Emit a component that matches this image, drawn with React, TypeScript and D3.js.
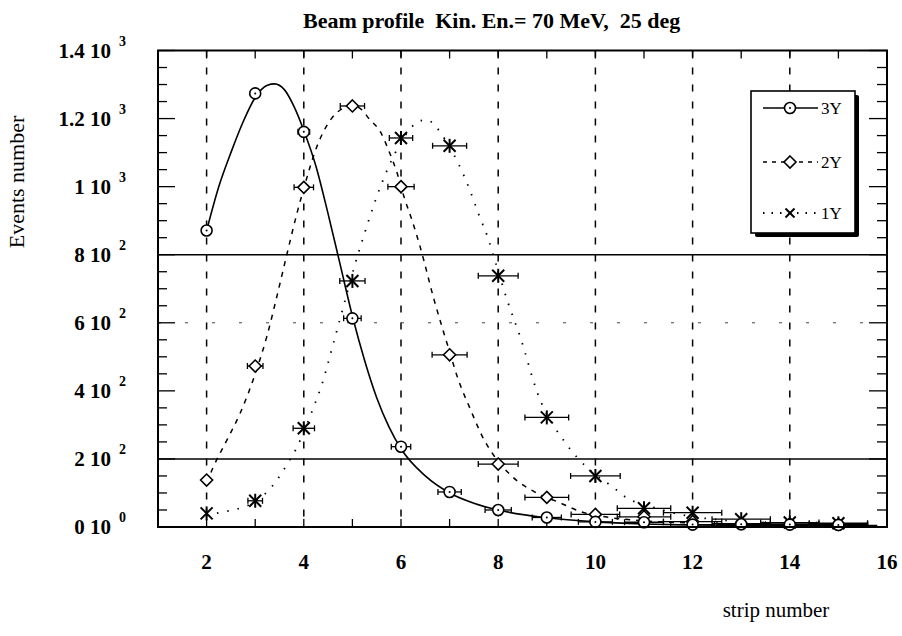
import React from 'react';
import * as d3 from 'd3';

// ---- data ----
const strips = [2, 3, 4, 5, 6, 7, 8, 9, 10, 11, 12, 13, 14, 15];
const events3Y = [871, 1274, 1161, 613, 236, 103, 50, 28, 15, 14, 7, 8, 7, 6];
const events2Y = [138, 473, 998, 1237, 1000, 506, 185, 87, 37, 30, 16, 10, 9, 8];
const events1Y = [40, 77, 290, 723, 1143, 1120, 738, 322, 150, 55, 42, 23, 13, 11];
const xErr3Y = [0, 0.08, 0.12, 0.18, 0.2, 0.24, 0.27, 0.3, 0.35, 0.4, 0.45, 0.5, 0.55, 0.6];
const xErr2Y = [0, 0.16, 0.2, 0.25, 0.27, 0.36, 0.41, 0.45, 0.5, 0.55, 0.6, 0.6, 0.6, 0.6];
const xErr1Y = [0, 0.15, 0.22, 0.26, 0.24, 0.35, 0.41, 0.45, 0.51, 0.55, 0.6, 0.6, 0.6, 0.6];

// fitted curves
const fit3Y_s = [2, 2.25, 2.5, 2.75, 3, 3.25, 3.4, 3.6, 3.8, 4, 4.25, 4.5, 4.75, 5, 5.25, 5.5, 5.75, 6, 6.5, 7, 7.5, 8, 9, 10, 11, 12, 13, 14, 15.8];
const fit3Y_v = [871, 1000, 1100, 1190, 1262, 1298, 1302, 1285, 1235, 1165, 1060, 920, 770, 620, 490, 380, 295, 230, 150, 100, 70, 50, 27, 15, 9, 6, 5, 4, 4];
const fit2Y_s = [2, 2.14, 2.42, 2.69, 3, 3.24, 3.45, 3.65, 3.86, 4, 4.27, 4.58, 4.8, 5, 5.2, 5.34, 5.58, 5.75, 5.92, 6.06, 6.23, 6.4, 6.68, 6.85, 7, 7.15, 7.43, 7.71, 7.91, 8.29, 8.74, 9.29, 9.7, 10.2, 11, 12];
const fit2Y_v = [130, 177, 256, 334, 450, 560, 680, 800, 922, 995, 1118, 1202, 1230, 1238, 1225, 1200, 1160, 1105, 1040, 971, 900, 820, 668, 585, 515, 445, 345, 256, 210, 148, 104, 70, 45, 30, 18, 12];
const fit1Y_s = [2, 2.3, 2.6, 2.83, 3, 3.34, 3.69, 3.84, 4, 4.27, 4.37, 4.6, 4.8, 5, 5.23, 5.34, 5.58, 5.75, 6, 6.2, 6.44, 6.55, 6.68, 6.9, 7.17, 7.4, 7.6, 7.79, 7.95, 8.2, 8.45, 8.81, 9.39, 9.84, 10.39, 10.66, 11.04, 11.5, 12, 12.5, 13];
const fit1Y_v = [35, 43, 52, 62, 75, 118, 192, 229, 280, 378, 418, 535, 640, 745, 854, 903, 1001, 1060, 1130, 1172, 1195, 1196, 1182, 1140, 1071, 996, 918, 849, 775, 660, 560, 393, 246, 173, 114, 84, 65, 45, 30, 22, 15];

const yTickValues = [0, 200, 400, 600, 800, 1000, 1200, 1400];
const yTickMantissa = ['0', '2', '4', '6', '8', '1', '1.2', '1.4'];
const yTickExponent = ['0', '2', '2', '2', '2', '3', '3', '3'];
const xTickValues = [2, 4, 6, 8, 10, 12, 14, 16];
const xGridValues = [2, 4, 6, 8, 10, 12, 14];
const hSolidGrid = [200, 800];
const hDottedGrid = [600];
const legendLabels = ['3Y', '2Y', '1Y'];

const FONT = '"Liberation Serif", "Times New Roman", Times, serif';

export default function App() {
  const W = 902, H = 636;
  const L = 158, R = 887, T = 50.5, B = 527;
  const x = d3.scaleLinear().domain([1, 16]).range([L, R]);
  const y = d3.scaleLinear().domain([0, 1400]).range([B, T]);

  const mkLine = (xs: number[], vs: number[]) =>
    d3.line<number>().x((_, i) => x(xs[i])).y((_, i) => y(vs[i])).curve(d3.curveMonotoneX)(vs) || '';

  const minorY = d3.range(0, 1401, 50);
  const minorX = d3.range(2, 16, 1);

  const errBars = (vals: number[], errs: number[], key: string) =>
    strips.map((s, i) => {
      if (!errs[i]) return null;
      const x0 = x(s - errs[i]), x1 = x(s + errs[i]), yy = y(vals[i]);
      return (
        <g key={key + i} stroke="#000" strokeWidth={1.3}>
          <line x1={x0} x2={x1} y1={yy} y2={yy} />
          <line x1={x0} x2={x0} y1={yy - 3} y2={yy + 3} />
          <line x1={x1} x2={x1} y1={yy - 3} y2={yy + 3} />
        </g>
      );
    });

  const circle = (cx: number, cy: number, k: string) => (
    <g key={k}>
      <circle cx={cx} cy={cy} r={5.5} fill="#fff" stroke="#000" strokeWidth={1.6} />
      <circle cx={cx} cy={cy} r={1} fill="#000" />
    </g>
  );
  const diamond = (cx: number, cy: number, k: string) => (
    <path key={k} d={`M${cx},${cy - 6}L${cx + 6},${cy}L${cx},${cy + 6}L${cx - 6},${cy}Z`} fill="#fff" stroke="#000" strokeWidth={1.6} />
  );
  const star = (cx: number, cy: number, k: string, withVert = true, sz = 6) => (
    <g key={k} stroke="#000" strokeWidth={2}>
      <line x1={cx - sz} y1={cy - sz} x2={cx + sz} y2={cy + sz} />
      <line x1={cx - sz} y1={cy + sz} x2={cx + sz} y2={cy - sz} />
      {withVert && <line x1={cx} y1={cy - sz - 1} x2={cx} y2={cy + sz + 1} />}
    </g>
  );

  // legend
  const LX = 751, LY = 91, LW = 104, LH = 142;
  const legendRows = [108, 162, 213];

  return (
    <svg width={W} height={H} style={{ position: 'absolute', left: 0, top: 0, background: '#fff' }} fontFamily={FONT}>
      <rect x={0} y={0} width={W} height={H} fill="#fff" />
      {/* title */}
      <text x={303} y={28} fontSize={22} fontWeight="bold" style={{ whiteSpace: 'pre' }}>
        {'Beam profile  Kin. En.= 70 MeV,  25 deg'}
      </text>

      {/* grid */}
      {xGridValues.map((v) => (
        <line key={'gx' + v} x1={x(v)} x2={x(v)} y1={T} y2={B} stroke="#000" strokeWidth={1.5} strokeDasharray="7,10" />
      ))}
      {hSolidGrid.map((v) => (
        <line key={'gh' + v} x1={L} x2={R} y1={y(v)} y2={y(v)} stroke="#000" strokeWidth={1.4} />
      ))}
      {hDottedGrid.map((v) => (
        <line key={'gd' + v} x1={L} x2={R} y1={y(v)} y2={y(v)} stroke="#444" strokeWidth={1} strokeDasharray="3,24" />
      ))}

      {/* axis ticks */}
      {minorY.map((v) => {
        const major = v % 200 === 0;
        const len = major ? 17 : 9;
        return (
          <g key={'ty' + v} stroke="#000" strokeWidth={1.3}>
            <line x1={L} x2={L + len} y1={y(v)} y2={y(v)} />
            <line x1={R} x2={R - (major ? 18 : 10)} y1={y(v)} y2={y(v)} />
          </g>
        );
      })}
      {minorX.map((v) => (
        <g key={'tx' + v} stroke="#000" strokeWidth={1.3}>
          <line x1={x(v)} x2={x(v)} y1={B} y2={B - 8} />
          <line x1={x(v)} x2={x(v)} y1={T} y2={T + 8} />
        </g>
      ))}

      {/* fitted curves */}
      <path d={mkLine(fit3Y_s, fit3Y_v)} fill="none" stroke="#000" strokeWidth={1.6} />
      <path d={mkLine(fit2Y_s, fit2Y_v)} fill="none" stroke="#000" strokeWidth={1.5} strokeDasharray="5,6" />
      <path d={mkLine(fit1Y_s, fit1Y_v)} fill="none" stroke="#000" strokeWidth={1.8} strokeDasharray="1.5,9" />

      {/* error bars */}
      {errBars(events1Y, xErr1Y, 'e1')}
      {errBars(events2Y, xErr2Y, 'e2')}
      {errBars(events3Y, xErr3Y, 'e3')}

      {/* markers */}
      {strips.map((s, i) => star(x(s), y(events1Y[i]), 's1' + i))}
      {strips.map((s, i) => diamond(x(s), y(events2Y[i]), 's2' + i))}
      {strips.map((s, i) => circle(x(s), y(events3Y[i]), 's3' + i))}

      {/* frame */}
      <rect x={L} y={T} width={R - L} height={B - T} fill="none" stroke="#000" strokeWidth={2} />

      {/* y tick labels */}
      {yTickValues.map((v, i) => (
        <g key={'yl' + v} fontWeight="bold">
          <text x={111} y={y(v) + 7} fontSize={21} textAnchor="end">{yTickMantissa[i] + ' 10'}</text>
          <text x={119} y={y(v) - 5} fontSize={14}>{yTickExponent[i]}</text>
        </g>
      ))}
      {/* x tick labels */}
      {xTickValues.map((v) => (
        <text key={'xl' + v} x={x(v)} y={569} fontSize={21} fontWeight="bold" textAnchor="middle">{v}</text>
      ))}

      {/* axis titles */}
      <text x={776} y={617} fontSize={21} textAnchor="middle">strip number</text>
      <text transform={`translate(24,182) rotate(-90)`} fontSize={22} textAnchor="middle">Events number</text>

      {/* legend */}
      <rect x={LX + 4} y={LY + 4} width={LW} height={LH} fill="#000" rx={2} />
      <rect x={LX} y={LY} width={LW} height={LH} fill="#fff" stroke="#000" strokeWidth={1.6} />
      <line x1={763} x2={818} y1={legendRows[0]} y2={legendRows[0]} stroke="#000" strokeWidth={1.4} />
      {circle(790, legendRows[0], 'lc')}
      <line x1={763} x2={818} y1={legendRows[1]} y2={legendRows[1]} stroke="#000" strokeWidth={1.4} strokeDasharray="4,5" />
      {diamond(790, legendRows[1], 'ld')}
      <line x1={763} x2={818} y1={legendRows[2]} y2={legendRows[2]} stroke="#000" strokeWidth={1.8} strokeDasharray="1.5,7" />
      <rect x={784} y={legendRows[2] - 6} width={12} height={12} fill="#fff" />
      {star(790, legendRows[2], 'lx', false, 4.5)}
      {legendLabels.map((t, i) => (
        <text key={'lg' + t} x={821} y={legendRows[i] + 6} fontSize={17}>{t}</text>
      ))}
    </svg>
  );
}
